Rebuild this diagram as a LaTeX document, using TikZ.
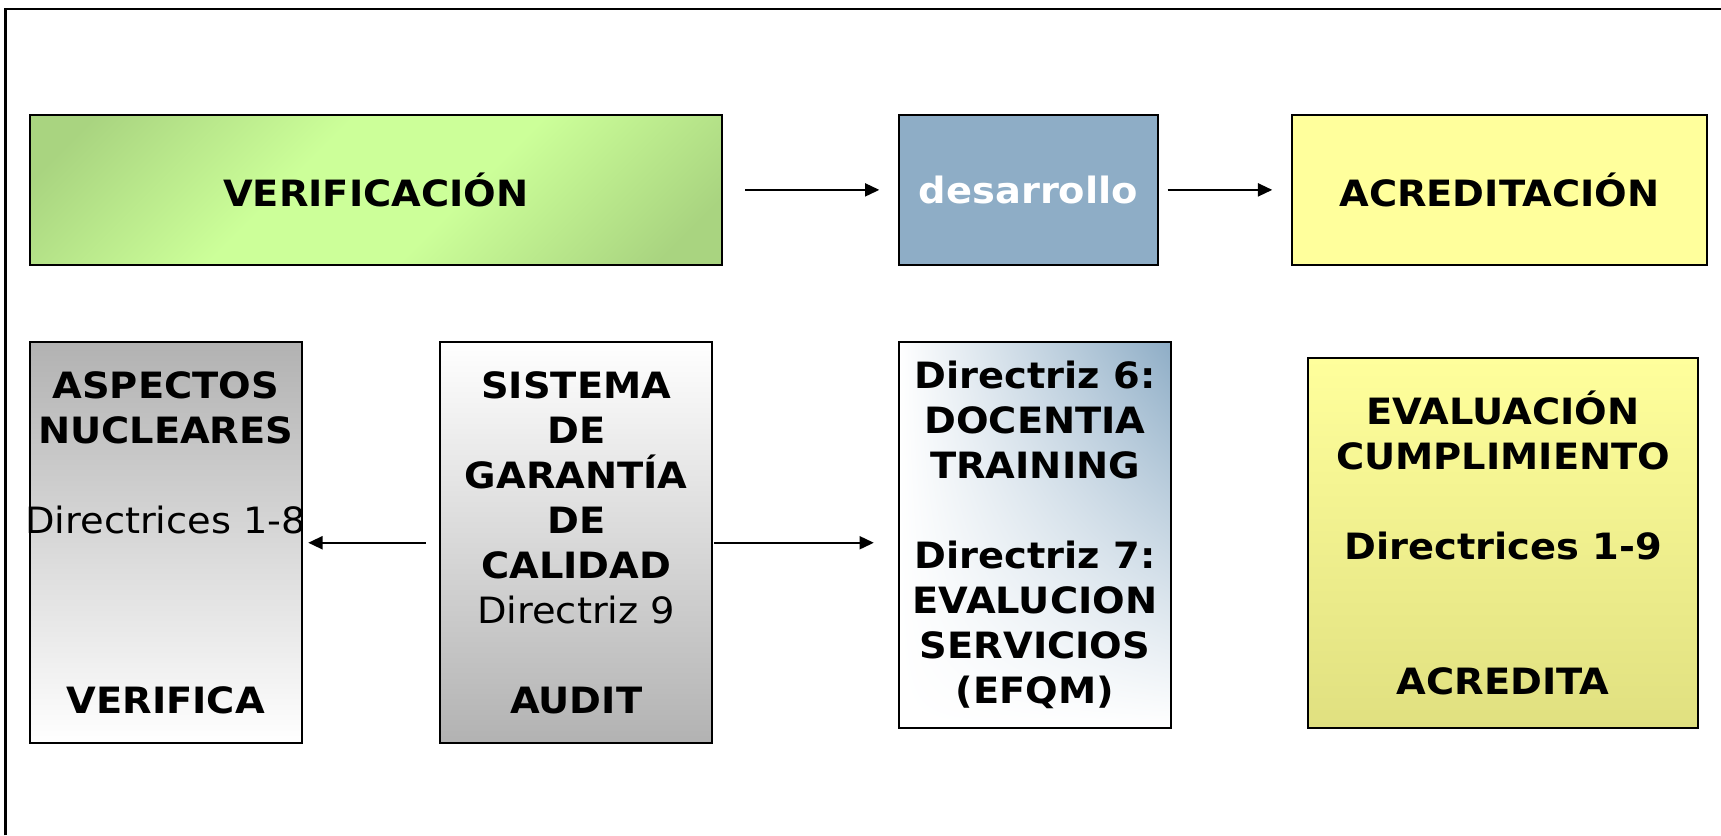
\documentclass[tikz,border=0pt]{standalone}
\usepackage{fontspec}
\setmainfont{DejaVu Sans}[FakeStretch=1.06]
\usetikzlibrary{arrows.meta,shadings}
\definecolor{gdark}{HTML}{A9D480}
\definecolor{glight}{HTML}{CCFF99}
\definecolor{steel}{HTML}{8EADC6}
\definecolor{lyellow}{HTML}{FFFF9C}
\definecolor{dyellow}{HTML}{E0E080}
\definecolor{gry}{HTML}{B2B2B2}
\pgfdeclareverticalshading{greenband}{100bp}{color(0bp)=(gdark); color(20bp)=(gdark); color(42bp)=(glight); color(58bp)=(glight); color(80bp)=(gdark); color(100bp)=(gdark)}
\begin{document}
\begin{tikzpicture}[x=1pt,y=-1pt,
  box/.style={draw=black, line width=1.8pt, inner sep=0pt, align=center,
    font=\fontsize{33}{41}\selectfont\bfseries},
  arr/.style={line width=1.4pt, -{Triangle[length=13pt,width=12pt]}}]
\useasboundingbox (0,0) rectangle (1568,761);
\fill[white] (0,0) rectangle (1568,761);
\draw[line width=2pt] (5,761) -- (5,8) -- (1568,8);

\node[box, minimum width=631pt, minimum height=136pt,
  shading=greenband, shading angle=45]
  (verif) at (342.5,173) {VERIFICACIÓN};
\node[box, minimum width=236pt, minimum height=136pt, fill=steel, text=white]
  (desa) at (937,173) {desarrollo};
\node[box, minimum width=378pt, minimum height=136pt, fill=lyellow]
  (acred) at (1366,173) {ACREDITACIÓN};

\node[box, minimum width=248pt, minimum height=365pt,
  top color=gry, bottom color=white]
  (asp) at (151,494.5) {ASPECTOS\\NUCLEARES\\[41pt]\makebox[0pt]{\mdseries Directrices 1-8}\\[123pt]VERIFICA};
\node[box, minimum width=248pt, minimum height=365pt,
  top color=white, bottom color=gry]
  (sist) at (525,494.5) {SISTEMA\\DE\\GARANTÍA\\DE\\CALIDAD\\{\mdseries Directriz 9}\\[41pt]AUDIT};
\node[box, minimum width=248pt, minimum height=351pt,
  upper right=steel, upper left=white, lower left=white, lower right=white]
  (dir) at (943,487.5) {Directriz 6:\\DOCENTIA\\TRAINING\\[41pt]Directriz 7:\\EVALUCION\\SERVICIOS\\(EFQM)};
\node[box, minimum width=355pt, minimum height=337pt,
  top color=lyellow, bottom color=dyellow]
  (eval) at (1369.5,494.5) {EVALUACIÓN\\CUMPLIMIENTO\\[41pt]Directrices 1-9\\[82pt]ACREDITA};

\draw[arr, shorten <=20pt, shorten >=17pt] (verif.east) -- (desa.west);
\draw[arr, shorten <=8pt, shorten >=17pt] (desa.east) -- (acred.west);
\draw[arr, shorten <=12pt, shorten >=5pt] (sist.west) -- (asp.east);
\draw[arr, shorten <=1pt, shorten >=22pt] (sist.east) -- (sist.east -| dir.west);
\end{tikzpicture}
\end{document}
